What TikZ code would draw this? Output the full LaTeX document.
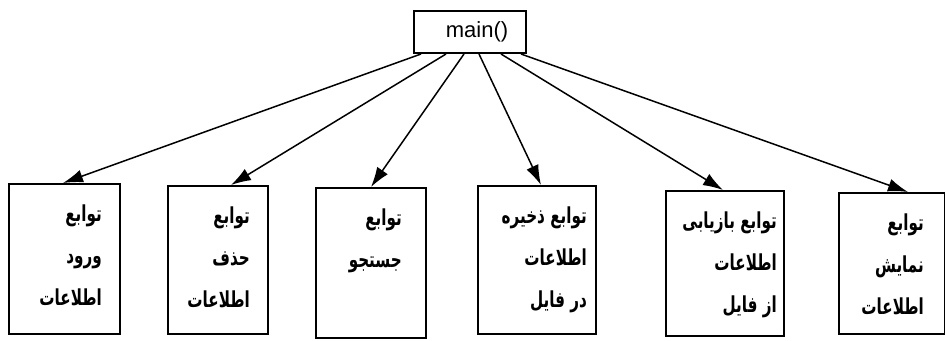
\documentclass[tikz,border=0pt]{standalone}
\usepackage{fontspec}
\setmainfont{Liberation Sans}
\newfontfamily\fa[Script=Arabic,FakeStretch=0.69]{DejaVu Sans}
\TeXXeTstate=1
\usetikzlibrary{arrows.meta}
\begin{document}
\begin{tikzpicture}[x=1pt,y=-1pt,
  box/.style={draw,line width=2pt,inner sep=0pt,anchor=north west},
  lbl/.style={inner sep=0pt,anchor=north east,align=right,font=\fa\bfseries\fontsize{22}{42}\selectfont},
  arr/.style={line width=1.5pt,-{Latex[length=20pt,width=13pt]}}]
\useasboundingbox (0,0) rectangle (945,340);
\node[box,minimum width=112pt,minimum height=42pt,font=\fontsize{22}{24}\selectfont] (main) at (413,10) {\hspace*{14pt}main()};
\node[box,minimum width=111pt,minimum height=150pt] (b1) at (8,183) {};
\node[box,minimum width=100pt,minimum height=148pt] (b2) at (167,185) {};
\node[box,minimum width=110pt,minimum height=150pt] (b3) at (315,187) {};
\node[box,minimum width=118pt,minimum height=148pt] (b4) at (477,185) {};
\node[box,minimum width=118pt,minimum height=145pt] (b5) at (665,190) {};
\node[box,minimum width=106pt,minimum height=141pt] (b6) at (838,192) {};
\node[lbl] (t1) at ([xshift=-19pt,yshift=-22pt]b1.north east) {\beginR توابع\endR\\\beginR ورود\endR\\\beginR اطلاعات\endR};
\node[lbl] (t2) at ([xshift=-19pt,yshift=-22pt]b2.north east) {\beginR توابع\endR\\\beginR حذف\endR\\\beginR اطلاعات\endR};
\node[lbl] (t3) at ([xshift=-25pt,yshift=-22pt]b3.north east) {\beginR توابع\endR\\\beginR جستجو\endR};
\node[lbl] (t4) at ([xshift=-10pt,yshift=-22pt]b4.north east) {\beginR توابع ذخیره\endR\\\beginR اطلاعات\endR\\\beginR در فایل\endR};
\node[lbl] (t5) at ([xshift=-8pt,yshift=-22pt]b5.north east) {\beginR توابع بازیابی\endR\\\beginR اطلاعات\endR\\\beginR از فایل\endR};
\node[lbl] (t6) at ([xshift=-22pt,yshift=-22pt]b6.north east) {\beginR توابع\endR\\\beginR نمایش\endR\\\beginR اطلاعات\endR};
\draw[arr] ([xshift=-49pt]main.south) -- ([xshift=-1.5pt]b1.north);
\draw[arr] ([xshift=-24pt]main.south) -- ([xshift=13pt]b2.north);
\draw[arr] ([xshift=-6pt]main.south) -- (b3.north);
\draw[arr] ([xshift=9pt]main.south) -- ([xshift=4pt]b4.north);
\draw[arr] ([xshift=31pt]main.south) -- ([xshift=-2pt]b5.north);
\draw[arr] ([xshift=51pt]main.south) -- ([xshift=16pt]b6.north);
\end{tikzpicture}
\end{document}
